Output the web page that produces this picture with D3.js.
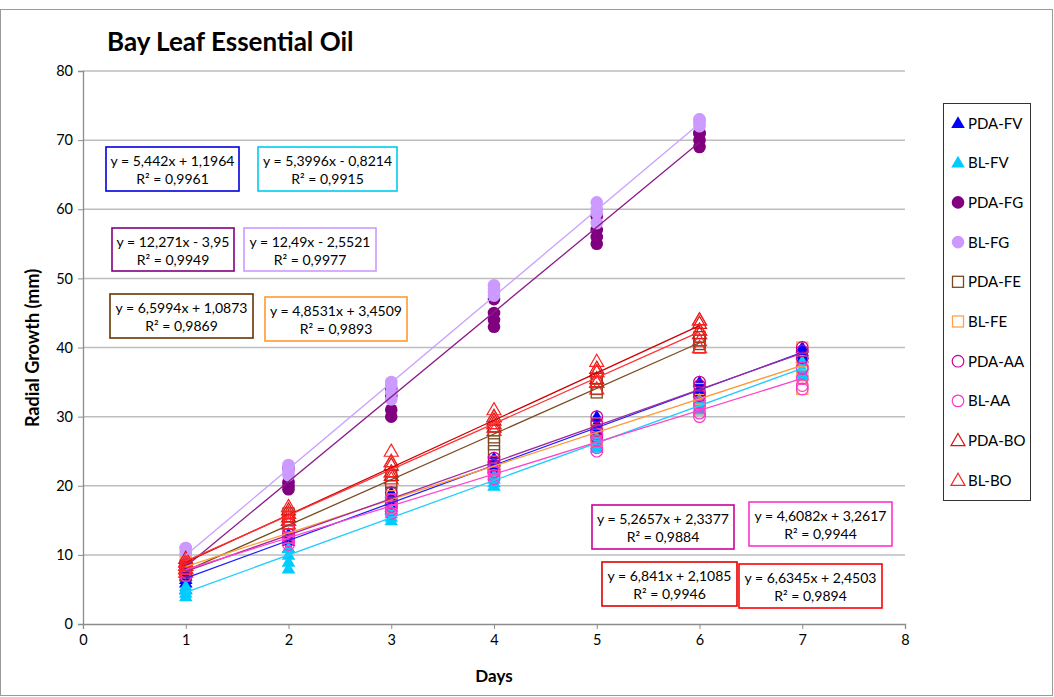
<!DOCTYPE html>
<html><head><meta charset="utf-8">
<script src="https://cdn.jsdelivr.net/npm/d3@7"></script>
<style>body{margin:0;background:#fff}svg{display:block}text{font-family:Lato,"Open Sans",sans-serif}</style>
</head><body>
<svg id="c" width="1054" height="697"></svg>
<script>
const days = [1,2,3,4,5,6,7];
const seriesNames = ["PDA-FV","BL-FV","PDA-FG","BL-FG","PDA-FE","BL-FE","PDA-AA","BL-AA","PDA-BO","BL-BO"];
// replicate values per day (mm)
const pdaFV = [[5,6,6.5,7],[11,12,12.5,13],[17,17.5,18,19],[22.5,23,23.5,24],[28,28.5,29,30],[33,33.5,34,35],[38.5,39,39.5,40]];
const blFV  = [[4,4.5,5,5.5],[8,9,10,11],[15,15.5,16,16.5],[20,20.5,21,21.5],[25.5,26,26.5,27],[31,31.5,32,32.5],[36,36.5,37,38]];
const pdaFG = [[8,8.5,9,9],[19.5,20,20.5,22.5],[30,31,33,34],[43,44,45,47],[55,56,57,59],[69,70,71,71]];
const blFG  = [[10,10.5,11,11],[21.5,22,22.5,23],[32.5,33.5,34.5,35],[47.5,48,48.5,49],[58,59.5,60,61],[72,72.5,73,73]];
const pdaFE = [[7,7.5,8,8.5],[13,14,15,16],[17.5,19,20.5,21.5],[25,26,27,28],[33.5,34,35,35.5],[40,40.5,41,41.5]];
const blFE  = [[7.5,8,8.5,9],[12.5,13,13.5,14],[17,17.5,18,18.5],[22,22.5,23,23.5],[26.5,27,28,29],[31,32,33,34],[34,36,38,40]];
const pdaAA = [[7,7.5,8,8.5],[12,12.5,13,14],[17,17.5,18,19],[22,23,23.5,24],[27,28,29,30],[33,33.5,34.5,35],[37,38.5,39.5,40]];
const blAA  = [[7,7.5,8,8.5],[11.5,12,12.5,13.5],[16,16.5,17,18],[21,21.5,22,22.5],[25,25.5,26.5,27.5],[30,30.5,31.5,32],[34,34.5,35.5,37]];
const pdaBO = [[8,8.5,9,9.5],[15,15.5,16,16.5],[21.5,22,23,23.5],[28.5,29,29.5,30],[35,35.5,36.5,37],[42,42.5,43.5,44]];
const blBO  = [[7.5,8,8.5,9],[14.5,15,16,17],[21,22,23.5,25],[28,29,30,31],[34,35,36.5,38],[40,41,42.5,44]];
const slopes = [5.442,5.3996,12.271,12.49,6.5994,4.8531,5.2657,4.6082,6.841,6.6345];
const intercepts = [1.1964,-0.8214,-3.95,-2.5521,1.0873,3.4509,2.3377,3.2617,2.1085,2.4503];
const r2 = ["0,9961","0,9915","0,9949","0,9977","0,9869","0,9893","0,9884","0,9944","0,9946","0,9894"];
const eqLabels = ["y = 5,442x + 1,1964","y = 5,3996x - 0,8214","y = 12,271x - 3,95","y = 12,49x - 2,5521","y = 6,5994x + 1,0873","y = 4,8531x + 3,4509","y = 5,2657x + 2,3377","y = 4,6082x + 3,2617","y = 6,841x + 2,1085","y = 6,6345x + 2,4503"];
const xTicks = [0,1,2,3,4,5,6,7,8];
const yTicks = [0,10,20,30,40,50,60,70,80];

const seriesData = [pdaFV,blFV,pdaFG,blFG,pdaFE,blFE,pdaAA,blAA,pdaBO,blBO];
const markerColor = ["#0000ff","#00ccff","#800080","#cc99ff","#7a4a1e","#ffa050","#cc0099","#ff33cc","#dd1111","#ff2222"];
const lineColor   = ["#2020ff","#22ccff","#8b1a8b","#c9a0ff","#7a4a1e","#ff9933","#9e2a9e","#ff44cc","#cc0000","#ff3333"];
const boxColor    = ["#0000dd","#00ccee","#800080","#cc99ff","#663300","#ff9933","#cc0099","#ff33cc","#dd0000","#ff0000"];
const shape = ["tri","tri","circ","circ","sq","sq","ocirc","ocirc","otri","otri"];
// label box layout [x, y, w, h]
const boxes = [[106,147,133,44],[258,147,139,44],[112,228,122,43],[244,228,132,43],[110,294,143,44],[265,297,142,44],[592,505,142,44],[749,502,143,44],[602,562,135,44],[739,564,143,44]];

const svg = d3.select("#c");
svg.append("rect").attr("x",0.5).attr("y",9.5).attr("width",1052).attr("height",686).attr("fill","#fff").attr("stroke","#9a9a9a");

const x = d3.scaleLinear().domain([0,8]).range([83,905]);
const y = d3.scaleLinear().domain([0,80]).range([624,71]);

// gridlines
svg.append("g").selectAll("line").data(yTicks.slice(1)).join("line")
  .attr("x1",x(0)).attr("x2",x(8)).attr("y1",d=>y(d)).attr("y2",d=>y(d))
  .attr("stroke","#bdbdbd").attr("stroke-width",1.5);

const gx = svg.append("g").attr("transform",`translate(0,${y(0)})`)
  .call(d3.axisBottom(x).tickValues(xTicks).tickSize(5).tickPadding(6).tickFormat(d3.format("d")));
const gy = svg.append("g").attr("transform",`translate(${x(0)},0)`)
  .call(d3.axisLeft(y).tickValues(yTicks).tickSize(5).tickPadding(5).tickFormat(d3.format("d")));
[gx,gy].forEach(g=>{
  g.select(".domain").attr("stroke","#8c8c8c").attr("stroke-width",1.3);
  g.selectAll(".tick line").attr("stroke","#8c8c8c");
  g.selectAll(".tick text").attr("font-size",14.5).attr("fill","#000").style("font-family","Lato,'Open Sans',sans-serif");
});

function drawMarker(g, kind, color, cx, cy){
  if(kind==="tri"){
    g.append("path").attr("d",d3.symbol(d3.symbolTriangle,80)()).attr("transform",`translate(${cx},${cy+1})`).attr("fill",color);
  } else if(kind==="otri"){
    g.append("path").attr("d",d3.symbol(d3.symbolTriangle,85)()).attr("transform",`translate(${cx},${cy+1})`).attr("fill","none").attr("stroke",color).attr("stroke-width",1.2);
  } else if(kind==="circ"){
    g.append("circle").attr("cx",cx).attr("cy",cy).attr("r",6.3).attr("fill",color);
  } else if(kind==="ocirc"){
    g.append("circle").attr("cx",cx).attr("cy",cy).attr("r",5.8).attr("fill","none").attr("stroke",color).attr("stroke-width",1.2);
  } else if(kind==="sq"){
    g.append("rect").attr("x",cx-5.5).attr("y",cy-5.5).attr("width",11).attr("height",11).attr("fill","none").attr("stroke",color).attr("stroke-width",1.3);
  }
}

// markers
seriesData.forEach((s,i)=>{
  const g = svg.append("g");
  s.forEach((vals,di)=>{
    vals.forEach(v=>drawMarker(g, shape[i], markerColor[i], x(days[di]), y(v)));
  });
});

// trendlines
seriesData.forEach((s,i)=>{
  const x0 = days[0], x1 = days[s.length-1];
  svg.append("line")
    .attr("x1",x(x0)).attr("y1",y(slopes[i]*x0+intercepts[i]))
    .attr("x2",x(x1)).attr("y2",y(slopes[i]*x1+intercepts[i]))
    .attr("stroke",lineColor[i]).attr("stroke-width",1.3);
});

// equation boxes
boxes.forEach((b,i)=>{
  const g = svg.append("g");
  g.append("rect").attr("x",b[0]).attr("y",b[1]).attr("width",b[2]).attr("height",b[3])
    .attr("fill","#fff").attr("stroke",boxColor[i]).attr("stroke-width",1.6);
  g.append("text").attr("x",b[0]+b[2]/2).attr("y",b[1]+19).attr("text-anchor","middle").attr("font-size",14).text(eqLabels[i]);
  g.append("text").attr("x",b[0]+b[2]/2).attr("y",b[1]+37).attr("text-anchor","middle").attr("font-size",14).text("R² = "+r2[i]);
});

// title & axis titles
svg.append("text").attr("x",107).attr("y",51).attr("font-size",26).attr("font-weight","bold").text("Bay Leaf Essential Oil");
svg.append("text").attr("x",494).attr("y",682).attr("text-anchor","middle").attr("font-size",17).attr("font-weight","bold").text("Days");
svg.append("text").attr("transform","translate(39,348) rotate(-90)").attr("text-anchor","middle").attr("font-size",18).attr("font-weight","bold").text("Radial Growth (mm)");

// legend
const lg = svg.append("g");
lg.append("rect").attr("x",943.5).attr("y",103.5).attr("width",87).attr("height",397).attr("fill","#fff").attr("stroke","#333").attr("stroke-width",1);
seriesNames.forEach((n,i)=>{
  const ly = 123 + i*39.7;
  drawMarker(lg, shape[i], markerColor[i], 958, ly);
  lg.append("text").attr("x",968).attr("y",ly+5.5).attr("font-size",15).text(n);
});
</script>
</body></html>
